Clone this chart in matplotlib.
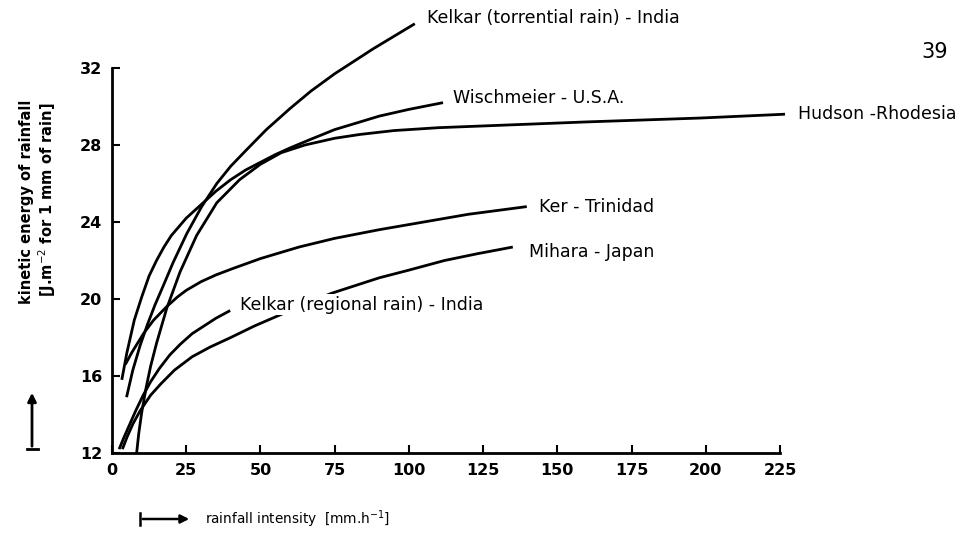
import matplotlib
matplotlib.use("Agg")
import matplotlib.pyplot as plt
from matplotlib.patches import FancyArrowPatch
from matplotlib.lines import Line2D

# ---- data ----
wisch_x = [3.3, 5.0, 7.5, 10.0, 12.5, 15.0, 17.5, 20.0, 25.0, 30.0, 35.0, 40.0, 45.0, 50.0,
           55.0, 60.0, 67.0, 75.0, 83.6, 90.0, 100.0, 111.5]
wisch_y = [15.8, 17.2, 18.9, 20.1, 21.2, 22.0, 22.7, 23.3, 24.2, 24.9, 25.6, 26.2, 26.7, 27.1,
           27.5, 27.85, 28.3, 28.8, 29.2, 29.5, 29.85, 30.2]

torr_x = [4.9, 7.0, 9.5, 12.0, 14.5, 17.3, 20.6, 25.2, 30.2, 35.3, 40.0, 45.0, 52.0, 60.0,
          67.0, 75.0, 88.0, 102.0]
torr_y = [14.9, 16.3, 17.6, 18.7, 19.7, 20.7, 21.9, 23.4, 24.8, 26.0, 26.9, 27.7, 28.8, 29.9,
          30.8, 31.7, 33.0, 34.3]

hud_x = [8.3, 9.0, 10.0, 11.5, 13.0, 15.0, 18.4, 22.9, 28.5, 35.3, 43.0, 50.0, 57.0, 65.0,
         75.0, 83.6, 95.0, 110.0, 135.0, 160.0, 198.0, 226.7]
hud_y = [12.0, 13.0, 14.1, 15.4, 16.5, 17.7, 19.5, 21.4, 23.3, 25.0, 26.2, 27.0, 27.6, 28.0,
         28.35, 28.55, 28.75, 28.9, 29.05, 29.2, 29.4, 29.6]

ker_x = [4.5, 6.6, 10.6, 14.0, 18.4, 22.0, 25.0, 30.0, 35.0, 41.0, 50.0, 63.0, 75.0, 90.0,
         105.0, 120.0, 139.7]
ker_y = [16.6, 17.2, 18.2, 18.9, 19.6, 20.1, 20.45, 20.9, 21.25, 21.6, 22.1, 22.7, 23.15, 23.6,
         24.0, 24.4, 24.8]

mih_x = [3.5, 5.0, 7.0, 9.5, 13.0, 16.5, 21.0, 27.0, 33.0, 40.0, 48.0, 57.0, 65.0, 74.0,
         82.0, 90.0, 100.0, 112.0, 123.0, 135.0]
mih_y = [12.2, 12.8, 13.5, 14.2, 15.0, 15.6, 16.3, 17.0, 17.5, 18.0, 18.6, 19.2, 19.75, 20.3,
         20.7, 21.1, 21.5, 22.0, 22.35, 22.7]

kreg_x = [2.4, 4.0, 6.0, 8.0, 10.5, 13.0, 16.0, 19.5, 23.0, 27.0, 31.0, 35.0, 39.8]
kreg_y = [12.2, 12.8, 13.5, 14.2, 15.0, 15.7, 16.4, 17.1, 17.65, 18.2, 18.6, 19.0, 19.4]

x_ticks = [0, 25, 50, 75, 100, 125, 150, 175, 200, 225]
x_tick_labels = ["0", "25", "50", "75", "100", "125", "150", "175", "200", "225"]
y_ticks = [12, 16, 20, 24, 28, 32]
y_tick_labels = ["12", "16", "20", "24", "28", "32"]

labels = ["Kelkar (torrential rain) - India", "Wischmeier - U.S.A.", "Hudson -Rhodesia",
          "Ker - Trinidad", "Mihara - Japan", "Kelkar (regional rain) - India"]

# ---- figure ----
W, H = 977, 536
fig = plt.figure(figsize=(W / 100, H / 100), dpi=100)
fig.patch.set_facecolor("white")

x0px, x1px = 112, 780
y0px, y1px = 453, 68
ax = fig.add_axes([x0px / W, 1 - y0px / H, (x1px - x0px) / W, (y0px - y1px) / H])
ax.set_xlim(0, 225)
ax.set_ylim(12, 32)
for s in ["top", "right"]:
    ax.spines[s].set_visible(False)
for s in ["left", "bottom"]:
    ax.spines[s].set_linewidth(2.0)
ax.set_xticks(x_ticks)
ax.set_xticklabels(x_tick_labels)
ax.set_yticks(y_ticks)
ax.set_yticklabels(y_tick_labels)
ax.tick_params(direction="in", length=6, width=1.5, labelsize=11.5, pad=7)
for t in ax.get_xticklabels() + ax.get_yticklabels():
    t.set_fontweight("bold")

lw = 2.0
series = [(torr_x, torr_y), (wisch_x, wisch_y), (hud_x, hud_y),
          (ker_x, ker_y), (mih_x, mih_y), (kreg_x, kreg_y)]
for xs, ys in series:
    ax.plot(xs, ys, color="black", lw=lw, clip_on=False, solid_capstyle="butt",
            solid_joinstyle="round", zorder=2)

# curve labels (white boxes hide the line that passes under the Kelkar regional label)
lab_pos = [(106.0, 34.6), (114.9, 30.45), (231.0, 29.6), (143.9, 24.8), (140.5, 22.45), (43.1, 19.7)]
for txt, (lx, ly) in zip(labels, lab_pos):
    ax.text(lx, ly, txt, fontsize=12.5, va="center", ha="left", clip_on=False, zorder=5,
            bbox=dict(facecolor="white", edgecolor="none", pad=1.0))

# axis titles with arrows
fig.text(27 / W, 1 - 202 / H, "kinetic energy of rainfall", rotation=90,
         ha="center", va="center", fontsize=10.5, fontweight="bold")
fig.text(47 / W, 1 - 200 / H, r"[J.m$^{-2}$ for 1 mm of rain]", rotation=90,
         ha="center", va="center", fontsize=10.5, fontweight="bold")
fig.text(205 / W, 1 - 519 / H, r"rainfall intensity  [mm.h$^{-1}$]",
         ha="left", va="center", fontsize=9.8)

# y arrow
fig.add_artist(FancyArrowPatch((32 / W, 1 - 449 / H), (32 / W, 1 - 390 / H),
               transform=fig.transFigure, arrowstyle="-|>,head_length=5,head_width=2.5",
               color="black", lw=2.0))
fig.add_artist(Line2D([27 / W, 38 / W], [1 - 449 / H, 1 - 449 / H],
               transform=fig.transFigure, color="black", lw=2.0))
# x arrow
fig.add_artist(FancyArrowPatch((140 / W, 1 - 519 / H), (192 / W, 1 - 519 / H),
               transform=fig.transFigure, arrowstyle="-|>,head_length=5,head_width=2.5",
               color="black", lw=1.8))
fig.add_artist(Line2D([140 / W, 140 / W], [1 - 513 / H, 1 - 525 / H],
               transform=fig.transFigure, color="black", lw=1.8))

# page number
fig.text(935 / W, 1 - 52 / H, "39", ha="center", va="center", fontsize=15)

fig.savefig("out.png", dpi=100, facecolor="white")
